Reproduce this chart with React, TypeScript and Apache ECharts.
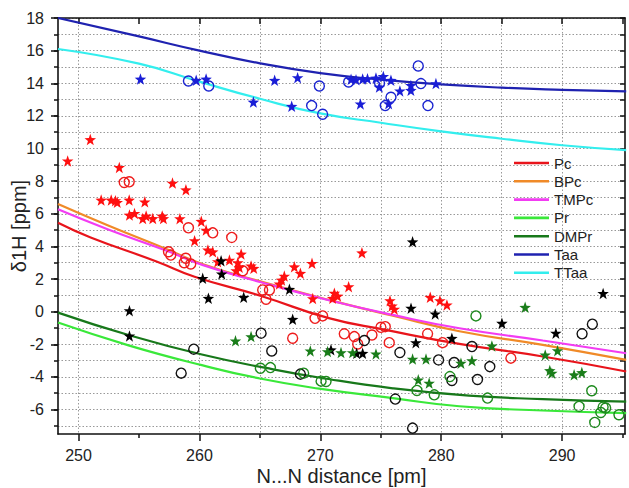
import React, { useEffect, useRef } from 'react';
import * as echarts from 'echarts';

// ---- axis ticks / labels ----
const xLabelValues = [250, 260, 270, 280, 290];
const xMinorTickValues = [255, 265, 275, 285, 295];
const xTopTickValues = [250, 255, 260, 265, 270, 275, 280, 285, 290, 295];
const xGridValues = [250, 260, 265, 270, 275, 280, 285, 290];
const yLabelValues = [-6, -4, -2, 0, 2, 4, 6, 8, 10, 12, 14, 16, 18];
const yAllValues = [-7, -6, -5, -4, -3, -2, -1, 0, 1, 2, 3, 4, 5, 6, 7, 8, 9, 10, 11, 12, 13, 14, 15, 16, 17, 18];

// ---- fitted curves ----
const pcCurve = [[248.3, 5.45], [251, 4.55], [256.5, 3.06], [259.6, 2.14], [265.1, 0.96], [270.7, -0.4], [275.4, -1.12], [281.5, -1.98], [288.4, -2.75], [295.3, -3.67]];
const bpcCurve = [[248.3, 6.6], [252.4, 5.3], [257.4, 3.8], [260.3, 2.9], [265.1, 1.84], [270.7, 0.72], [276, -0.25], [281.5, -1.2], [288.4, -2.04], [295.3, -2.96]];
const tmpcCurve = [[248.3, 6.27], [252.4, 5.05], [257.4, 3.7], [260.3, 2.85], [265.1, 1.8], [270.7, 0.7], [276, -0.2], [281.5, -1.02], [288.4, -1.77], [295.3, -2.55]];
const prCurve = [[248.3, -0.67], [254.2, -2.08], [260.2, -3.28], [265, -4.1], [269.9, -4.72], [276, -5.3], [281.5, -5.8], [288.4, -6.06], [295.3, -6.22]];
const dmprCurve = [[248.3, -0.06], [254.2, -1.45], [260.2, -2.63], [265.5, -3.45], [270, -4.05], [276, -4.7], [282.3, -5.15], [288.4, -5.36], [295.3, -5.52]];
const taaCurve = [[248.3, 18.0], [255, 16.87], [260, 16.0], [265, 15.22], [270, 14.62], [275, 14.22], [280, 13.93], [285, 13.73], [290, 13.6], [295.3, 13.5]];
const ttaaCurve = [[248.3, 16.1], [255, 15.2], [260, 14.1], [265, 13.05], [270, 12.15], [275, 11.58], [280, 11.05], [285, 10.6], [290, 10.2], [295.3, 9.9]];

// ---- scatter points ----
const redStars = [[249.1, 9.24], [250.97, 10.55], [251.87, 6.84], [252.7, 6.84], [253.05, 6.8], [253.2, 6.7], [254.19, 6.84], [255.48, 6.73], [253.37, 8.84], [254.21, 5.92], [254.63, 6.02], [255.31, 5.71], [255.59, 5.86], [256.14, 5.71], [256.92, 5.86], [257.02, 5.71], [257.77, 7.88], [258.88, 7.47], [258.38, 5.7], [260.15, 5.54], [260.55, 5.0], [259.6, 4.35], [260.7, 3.78], [261.1, 3.67], [261.51, 3.06], [262.48, 3.16], [263.45, 3.53], [263.17, 3.0], [263.3, 2.72], [263.03, 2.51], [264.27, 2.8], [264.49, 2.66], [266.61, 1.7], [266.8, 1.94], [267.02, 2.18], [267.85, 2.75], [268.35, 2.35], [269.31, 2.96], [269.37, 0.8], [273.44, 3.61], [272.34, 1.53], [271.16, 1.13], [271.43, 0.96], [271.02, 0.82], [275.76, 0.67], [275.93, 0.35], [276.12, 0.15], [279.09, 0.88], [279.89, 0.67], [280.47, 0.41]];
const redCircles = [[253.78, 7.92], [254.19, 7.96], [259.09, 5.14], [257.44, 3.67], [257.63, 3.47], [258.87, 3.27], [258.74, 3.0], [259.28, 2.92], [261.1, 4.83], [262.67, 4.55], [263.58, 2.51], [265.23, 1.33], [265.79, 1.33], [265.51, 0.76], [269.56, -0.41], [270.19, -0.26], [267.71, -1.63], [271.98, -1.36], [272.81, -1.53], [273.09, -1.98], [274.27, -1.43], [275.01, -0.96], [275.37, -0.92], [275.7, -1.9], [278.87, -1.36], [280.11, -1.9], [285.76, -2.85]];
const blackStars = [[254.21, 0.06], [254.21, -1.49], [260.27, 2.04], [261.79, 3.12], [261.84, 2.31], [260.74, 0.82], [263.66, 0.88], [267.44, 1.37], [267.71, -0.47], [270.88, -2.34], [273.0, -2.55], [273.5, -2.55], [277.63, 4.28], [277.5, 0.21], [279.5, -0.14], [277.9, -1.9], [280.88, -1.63], [285.02, -0.71], [289.48, -1.32], [293.39, 1.12]];
const blackCircles = [[258.49, -3.77], [259.53, -2.3], [265.1, -1.32], [265.98, -2.41], [268.35, -3.83], [273.64, -1.77], [276.58, -2.51], [279.78, -2.96], [281.07, -3.12], [280.88, -4.22], [276.2, -5.36], [277.63, -7.14], [282.54, -2.14], [284.02, -3.37], [283.0, -4.16], [291.65, -1.36], [292.5, -0.77]];
const greenStars = [[262.98, -1.79], [264.27, -1.53], [269.17, -2.41], [270.6, -2.45], [271.71, -2.51], [272.67, -2.51], [274.6, -2.59], [277.63, -2.91], [278.74, -2.91], [281.63, -3.16], [282.54, -3.0], [278.1, -4.18], [279.0, -4.38], [284.19, -2.1], [286.94, 0.27], [288.6, -2.65], [289.62, -2.39], [288.98, -3.61], [289.15, -3.77], [290.99, -3.87], [291.63, -3.73]];
const greenCircles = [[265.04, -3.47], [265.87, -3.43], [268.62, -3.77], [270.06, -4.26], [270.47, -4.28], [277.99, -4.83], [279.42, -5.1], [280.72, -3.98], [282.87, -0.26], [283.83, -5.3], [291.4, -5.81], [292.45, -4.85], [293.2, -6.18], [293.6, -5.91], [293.39, -5.85], [292.7, -6.79], [294.7, -6.32]];
const blueStars = [[255.12, 14.26], [259.73, 14.18], [260.55, 14.26], [264.46, 12.85], [266.22, 14.18], [268.12, 14.34], [267.63, 12.59], [272.54, 14.24], [272.95, 14.22], [273.5, 14.26], [273.9, 14.28], [274.6, 14.32], [275.21, 14.42], [275.84, 14.18], [274.88, 13.77], [276.58, 13.53], [277.49, 13.87], [277.49, 13.57], [279.56, 13.98], [273.31, 12.73], [275.65, 12.75]];
const blueCircles = [[259.09, 14.14], [260.77, 13.83], [269.28, 12.63], [269.92, 13.83], [270.19, 12.1], [272.34, 14.08], [278.1, 15.06], [278.32, 13.98], [278.9, 12.63], [275.37, 12.63], [275.84, 13.14], [274.9, 14.0]];

const legendNames = ['Pc', 'BPc', 'TMPc', 'Pr', 'DMPr', 'Taa', 'TTaa'];

const STAR = 'path://M0,-10 L2.35,-3.24 L9.51,-3.09 L3.8,1.24 L5.88,8.09 L0,4 L-5.88,8.09 L-3.8,1.24 L-9.51,-3.09 L-2.35,-3.24 Z';
const FONT = 'Liberation Sans, Arial, sans-serif';

export default function App() {
  const ref = useRef<HTMLDivElement>(null);
  useEffect(() => {
    if (!ref.current) return;
    const chart = echarts.init(ref.current, null, { renderer: 'svg' });
    const XMIN = 248.3, XMAX = 295.2, YMIN = -7.5, YMAX = 18;
    const lineSeries = (name: string, data: number[][], color: string) => ({
      name, type: 'line', data, smooth: 0.5, symbol: 'none', showSymbol: false,
      lineStyle: { color, width: 2.2 }, itemStyle: { color }, z: 2,
    });
    const starSeries = (name: string, data: number[][], color: string) => ({
      name, type: 'scatter', data, symbol: STAR, symbolSize: 11.5,
      itemStyle: { color, opacity: 1 }, z: 3,
    });
    const circleSeries = (name: string, data: number[][], color: string) => ({
      name, type: 'scatter', data, symbol: 'circle', symbolSize: 10,
      itemStyle: { color: 'rgba(0,0,0,0)', borderColor: color, borderWidth: 1.4, opacity: 1 }, z: 3,
    });
    const axisText = { color: '#222', fontSize: 16, fontFamily: FONT };
    chart.setOption({
      animation: false,
      backgroundColor: '#fff',
      grid: { left: 58, right: 4, top: 18, bottom: 54, containLabel: false, outerBoundsMode: 'none' },
      legend: {
        data: legendNames, orient: 'vertical', left: 514, top: 154,
        icon: 'rect', itemWidth: 35, itemHeight: 2.6, itemGap: 0.3,
        textStyle: { fontSize: 15, fontFamily: FONT, color: '#222', lineHeight: 18 },
        backgroundColor: 'transparent', padding: 0, selectedMode: false,
      },
      xAxis: [
        {
          type: 'value', position: 'bottom', min: XMIN, max: XMAX,
          name: 'N...N distance [pm]', nameLocation: 'middle', nameGap: 32, nameMoveOverlap: false,
          nameTextStyle: { fontSize: 20, fontFamily: FONT, color: '#222' },
          axisLine: { show: true, onZero: false, lineStyle: { color: '#111', width: 1.6 } },
          axisTick: { show: true, inside: false, length: 7, customValues: xLabelValues, lineStyle: { color: '#111', width: 1.5 } },
          axisLabel: { show: true, margin: 13, customValues: xLabelValues, ...axisText },
          splitLine: { show: false },
        },
        {
          type: 'value', position: 'bottom', min: XMIN, max: XMAX,
          axisLine: { show: false, onZero: false },
          axisTick: { show: true, inside: false, length: 4, customValues: xMinorTickValues, lineStyle: { color: '#111', width: 1.5 } },
          axisLabel: { show: false }, splitLine: { show: false },
        },
        {
          type: 'value', position: 'top', min: XMIN, max: XMAX,
          axisLine: { show: true, onZero: false, lineStyle: { color: '#111', width: 1.6 } },
          axisTick: { show: true, inside: true, length: 6, customValues: xTopTickValues, lineStyle: { color: '#111', width: 1.5 } },
          axisLabel: { show: false }, splitLine: { show: false },
        },
        {
          type: 'value', position: 'bottom', min: XMIN, max: XMAX,
          axisLine: { show: false, onZero: false },
          axisTick: { show: false, customValues: xGridValues },
          axisLabel: { show: false },
          splitLine: { show: true, lineStyle: { color: '#999', width: 1, type: [1.5, 2] } },
        },
      ],
      yAxis: [
        {
          type: 'value', position: 'left', min: YMIN, max: YMAX,
          name: 'δ1H [ppm]', nameLocation: 'middle', nameGap: 29, nameRotate: 90, nameMoveOverlap: false,
          nameTextStyle: { fontSize: 20, fontFamily: FONT, color: '#222' },
          axisLine: { show: true, onZero: false, lineStyle: { color: '#111', width: 1.6 } },
          axisTick: { show: true, inside: false, length: 7, customValues: yLabelValues, lineStyle: { color: '#111', width: 1.5 } },
          axisLabel: { show: true, margin: 14, customValues: yLabelValues, ...axisText },
          splitLine: { show: false },
        },
        {
          type: 'value', position: 'left', min: YMIN, max: YMAX,
          axisLine: { show: false, onZero: false },
          axisTick: { show: true, inside: false, length: 4, customValues: yAllValues, lineStyle: { color: '#111', width: 1.5 } },
          axisLabel: { show: false },
          splitLine: { show: true, lineStyle: { color: '#999', width: 1, type: [1.5, 2] } },
        },
        {
          type: 'value', position: 'right', min: YMIN, max: YMAX,
          axisLine: { show: true, onZero: false, lineStyle: { color: '#111', width: 1.6 } },
          axisTick: { show: true, inside: true, length: 5, customValues: yAllValues, lineStyle: { color: '#111', width: 1.5 } },
          axisLabel: { show: false }, splitLine: { show: false },
        },
      ],
      series: [
        lineSeries('Pc', pcCurve, '#e8141b'),
        lineSeries('BPc', bpcCurve, '#f08a28'),
        lineSeries('TMPc', tmpcCurve, '#f23cf2'),
        lineSeries('Pr', prCurve, '#3ae83a'),
        lineSeries('DMPr', dmprCurve, '#17781a'),
        lineSeries('Taa', taaCurve, '#1f22b0'),
        lineSeries('TTaa', ttaaCurve, '#33eeee'),
        circleSeries('redCircles', redCircles, '#ee1c1c'),
        circleSeries('blackCircles', blackCircles, '#111111'),
        circleSeries('greenCircles', greenCircles, '#1d8a1d'),
        circleSeries('blueCircles', blueCircles, '#1a24d0'),
        starSeries('redStars', redStars, '#ff1010'),
        starSeries('blackStars', blackStars, '#000000'),
        starSeries('greenStars', greenStars, '#1a7d1a'),
        starSeries('blueStars', blueStars, '#1a1ed6'),
      ],
    });
    return () => chart.dispose();
  }, []);
  return (
    <div
      ref={ref}
      style={{ position: 'fixed', left: 0, top: 0, width: 629, height: 488, background: '#fff' }}
    />
  );
}
